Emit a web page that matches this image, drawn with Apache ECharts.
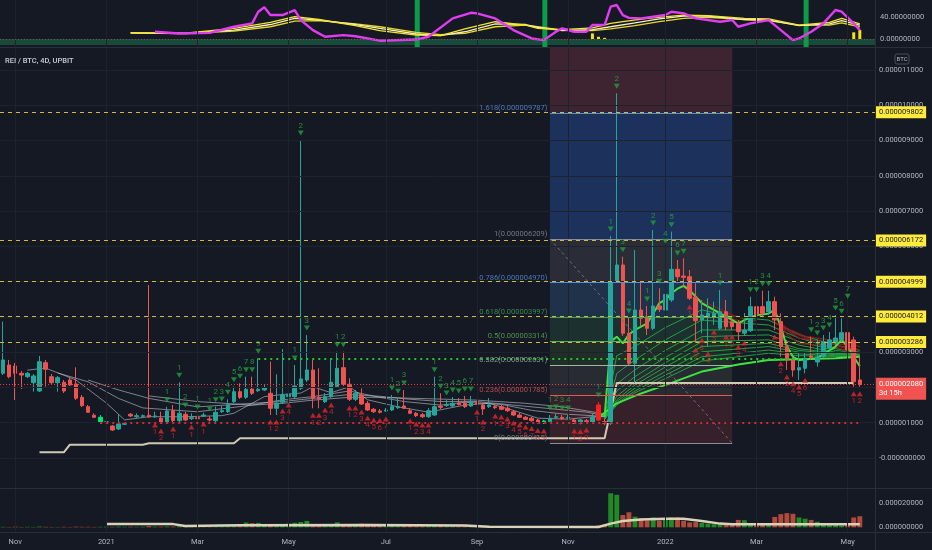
<!DOCTYPE html>
<html><head><meta charset="utf-8">
<script src="https://cdn.jsdelivr.net/npm/echarts@6/dist/echarts.min.js"></script>
<style>html,body{margin:0;padding:0;background:#151924;}#c{width:932px;height:550px;}</style>
</head><body><div id="c"></div>
<script>
// Prices are in micro-BTC (1 = 0.000001 BTC); the axis labels show the BTC value.
const SCALE = 1e-6;
const startDate = Date.UTC(2020, 9, 23);
const slotCount = 144;
const categories = Array.from({length: slotCount}, (_, i) => new Date(startDate + i * 4 * 864e5).toISOString().slice(0, 10));
const tickIndex = [2, 17, 32, 47, 63, 78, 93, 109, 124, 139];
const tickLabels = ['Nov', '2021', 'Mar', 'May', 'Jul', 'Sep', 'Nov', '2022', 'Mar', 'May'];
const priceTicks = [0,1,2,3,4,5,6,7,8,9,10,11];
const oscTicks = [0, 40];
const volTicks = [0, 20];

// [open, close, low, high]
const candles = [
[2.401,2.779,2.353,3.865],[2.637,2.305,2.260,2.779],[2.608,2.401,1.644,2.694],[2.401,2.353,1.956,2.467],[2.305,2.401,2.268,2.438],
[2.135,2.325,1.880,2.382],[1.900,2.730,1.871,2.892],[2.702,2.515,2.022,2.779],[2.305,2.135,2.098,2.382],[2.135,2.277,1.880,2.325],
[2.146,1.900,1.843,2.212],[2.212,2.070,2.041,2.268],[2.098,1.693,1.644,2.572],[1.721,1.483,1.446,1.786],[1.455,1.296,1.276,1.503],
[1.211,1.154,1.134,1.267],[1.029,1.154,0.964,1.219],[1.001,1.029,0.842,1.267],[0.907,0.794,0.766,0.936],[0.822,0.964,0.794,1.248],
[0.955,0.984,0.936,1.021],[1.239,1.191,1.162,1.276],[1.171,1.199,1.134,1.267],[1.182,1.199,1.162,1.233],[1.211,1.171,1.134,4.905],
[1.171,1.191,1.134,1.313],[1.126,1.001,0.964,1.313],[1.001,1.333,0.964,1.455],[1.341,1.058,1.021,1.503],[1.058,1.267,1.021,2.146],
[1.239,1.077,1.049,1.304],[1.114,1.143,1.077,1.267],[1.143,1.114,1.049,1.248],[1.191,1.219,1.162,1.284],[1.106,1.077,1.035,1.191],
[1.058,1.296,1.021,1.455],[1.313,1.341,1.276,1.474],[1.313,1.503,1.276,1.664],[1.596,1.880,1.559,2.022],[1.880,1.721,1.673,2.118],
[1.721,1.948,1.673,2.305],[1.956,1.834,1.786,2.305],[1.908,1.948,1.871,2.827],[1.928,1.985,1.900,2.070],[1.834,1.409,1.219,2.730],
[1.409,1.551,1.219,2.373],[1.579,1.786,1.531,3.090],[1.738,1.806,1.701,2.353],[1.738,2.041,1.701,2.637],[1.976,2.240,1.928,9.016],
[2.212,2.495,2.155,3.487],[2.495,1.693,1.409,2.779],[1.721,1.681,1.409,2.543],[1.596,1.738,1.559,1.843],[1.738,2.146,1.701,2.827],
[2.022,2.543,1.985,3.014],[2.560,2.090,2.041,3.014],[2.090,1.664,1.616,2.260],[1.664,1.834,1.616,1.928],[1.786,1.531,1.503,1.976],
[1.551,1.361,1.333,1.616],[1.381,1.313,1.276,1.418],[1.333,1.296,1.262,1.389],[1.333,1.361,1.304,1.418],[1.361,1.455,1.333,1.786],
[1.426,1.455,1.389,1.693],[1.474,1.409,1.389,1.928],[1.341,1.267,1.248,1.418],[1.267,1.199,1.162,1.304],[1.228,1.171,1.134,1.276],
[1.171,1.341,1.134,1.418],[1.219,1.455,1.191,2.305],[1.474,1.437,1.389,1.834],[1.488,1.517,1.446,1.644],[1.474,1.551,1.446,1.729],
[1.559,1.517,1.488,1.701],[1.551,1.455,1.418,1.758],[1.474,1.596,1.446,1.758],[1.568,1.531,1.503,1.616],[1.503,1.389,1.219,1.559],
[1.455,1.503,1.418,1.701],[1.455,1.426,1.389,1.503],[1.455,1.381,1.361,1.503],[1.409,1.341,1.304,1.474],[1.313,1.219,1.191,1.361],
[1.219,1.154,1.134,1.276],[1.154,1.097,1.077,1.191],[1.126,1.058,1.035,1.162],[1.077,1.001,0.978,1.106],[1.001,1.049,0.964,1.077],
[1.029,1.126,0.992,1.219],[1.154,1.171,1.120,1.248],[1.154,1.114,1.077,1.219],[1.134,1.154,1.106,1.219],[1.077,0.984,0.964,1.134],
[0.992,1.077,0.950,1.106],[1.058,1.029,0.992,1.106],[1.012,1.154,0.978,1.276],[1.503,1.077,1.049,1.588],[1.029,0.984,0.936,1.106],
[0.984,4.999,0.936,6.294],[4.999,5.472,4.962,10.340],[5.472,3.536,3.459,5.707],[3.536,2.685,2.637,3.969],[2.685,4.196,2.126,5.897],
[4.196,3.961,3.723,4.999],[4.006,3.677,3.487,4.310],[3.677,4.310,3.629,6.464],[4.310,4.216,4.140,4.811],[4.196,4.641,4.140,5.946],
[4.480,5.350,4.423,6.416],[5.350,5.140,4.953,5.614],[5.160,5.123,4.857,5.662],[5.140,4.528,4.480,5.330],[4.556,3.893,3.261,4.953],
[3.913,4.054,3.536,4.480],[4.006,4.103,3.156,4.528],[3.989,4.103,3.771,4.432],[3.677,4.148,3.629,4.763],[4.148,3.723,3.629,4.480],
[3.865,3.723,3.629,3.969],[3.819,3.581,3.346,3.913],[3.536,3.629,3.459,4.111],[3.609,4.290,3.572,4.573],[4.290,4.054,3.913,4.573],
[4.290,4.103,4.026,4.743],[4.148,4.432,4.054,4.743],[4.432,3.913,3.629,4.573],[3.865,3.156,2.872,4.103],[3.156,2.779,2.495,3.346],
[2.779,2.495,2.305,2.872],[2.495,2.560,2.212,2.969],[2.543,2.827,2.401,3.014],[2.892,2.855,2.779,3.439],[2.722,2.864,2.589,3.346],
[2.872,3.297,2.835,3.487],[3.110,3.346,3.062,3.572],[3.261,3.402,3.204,4.054],[3.346,3.553,3.289,3.961],[3.553,3.062,3.005,4.386],
[3.346,2.163,2.022,3.439],[2.212,2.080,2.022,2.900]
];

const volumes = [
0.4,0.3,0.5,0.3,0.4,0.3,0.6,0.4,0.3,0.3,0.4,0.3,0.5,0.4,0.4,0.3,0.4,
0.5,0.4,0.6,0.4,0.5,0.4,0.5,1.0,0.6,0.5,0.7,0.6,0.9,0.5,0.4,0.4,0.5,0.4,0.6,0.7,0.9,1.5,1.2,
3.9,3.4,3.6,2.5, 1.5,1.2,1.8, 3.0,3.7,4.3,5.2,
2.0,1.2,1.0,1.5,4.0,2.5,1.8,2.6,3.0,2.8,2.2,1.5,
1.2,1.4,1.0,1.3,1.1,1.0,0.9,1.0,1.8,1.2,1.0,0.9,0.8,
0.8,0.7,0.9,0.8,0.6,0.5,0.6,0.5,0.6,0.5,0.6,0.5,0.5,0.6,0.7,0.5,0.5,0.4,0.6,0.5,0.5,0.8,1.5,
2.0,27.7,26.4,10.0,12.2,8.6,7.3,5.5,8.0,5.5,6.5,8.0,8.0,5.4,4.0,4.2,3.5,3.0,2.5,3.5,3.0,2.5,6.0,5.8,
3.5,3.0,2.5,3.2,8.4,10.7,11.5,11.0,8.0,7.0,6.0,4.5,3.5,2.5,2.0,1.5,3.0,8.0,9.0
];
const volumeMA = [[17,2.6],[28,2.6],[30,1.1],[39,1.6],[60,1.9],[76,1.5],[80,0.4],[98,0.3],[100,3.0],[102,5.1],[105,6.3],[109,7.0],[112,7.0],[115,5.1],[118,3.0],[120,2.4],[141,2.4]];

// support / stop line
const supportLine = [[6,0.16],[10,0.16],[11,0.377],[23,0.377],[24,0.417],[38,0.417],[39,0.558],[99,0.558],[101,2.126],[140,2.126]];

// grey moving-average ribbon
const greyRibbon = [
 [[4,2.49],[7,2.55],[12,2.21],[17,1.56],[20,1.08],[24,1.17],[30,1.17],[36,1.2],[38,1.27],[43,1.74],[46,1.8],[49,1.84],[51,2.02],[54,1.85],[57,2.02],[60,1.65],[65,1.45],[70,1.3],[76,1.5],[80,1.55],[84,1.35],[88,1.13],[93,1.1],[97,1.17],[99,1.17]],
 [[9,2.41],[14,2.16],[19,1.69],[23,1.42],[32,1.31],[41,1.50],[46,1.65],[51,1.74],[57,1.9],[62,1.72],[66,1.6],[72,1.5],[76,1.58],[82,1.52],[87,1.35],[92,1.25],[97,1.2],[99,1.17]],
 [[14,2.21],[19,1.93],[24,1.69],[32,1.45],[41,1.55],[46,1.6],[51,1.69],[57,1.8],[62,1.75],[66,1.68],[72,1.6],[78,1.6],[84,1.5],[90,1.4],[96,1.3],[99,1.2]],
 [[24,1.76],[32,1.6],[41,1.5],[46,1.55],[51,1.64],[57,1.72],[62,1.72],[70,1.68],[78,1.64],[86,1.55],[92,1.45],[99,1.25]]
];
// green moving-average ribbon (fast to slow)
const fastLine = [[99,1.17],[100,3.3],[101,3.44],[102,3.25],[103,3.5],[104,3.63],[106,3.82],[107,4.10],[108,4.39],[109,4.48],[110,4.67],[111,4.80],[112,4.88],[113,4.76],[115,4.39],[117,4.20],[119,4.01],[121,3.82],[122,3.91],[124,4.05],[126,4.10],[127,4.20],[128,3.72],[129,3.16],[130,2.87],[131,2.78],[134,2.83],[137,3.16],[138,3.35],[139,3.16],[140,2.87],[141,2.6]];
const greenRibbon = [
 [[99,1.15],[101,2.9],[104,3.16],[109,3.7],[115,4.2],[120,4.0],[126,3.91],[131,3.5],[137,3.2],[141,3.05]],
 [[99,1.12],[101,2.4],[104,2.78],[109,3.35],[115,3.91],[126,3.77],[131,3.4],[137,3.1],[141,3.0]],
 [[99,1.1],[101,2.1],[104,2.5],[109,3.05],[115,3.63],[126,3.63],[131,3.3],[137,3.05],[141,2.98]],
 [[99,1.1],[101,1.9],[104,2.31],[109,2.85],[115,3.44],[126,3.49],[131,3.2],[137,3.0],[141,2.95]],
 [[99,1.1],[101,1.75],[104,2.16],[109,2.7],[115,3.30],[126,3.35],[131,3.1],[137,2.97],[141,2.93]],
 [[99,1.1],[101,1.65],[104,2.07],[109,2.58],[115,3.16],[126,3.25],[131,3.05],[137,2.95],[141,2.92]],
 [[99,1.1],[101,1.6],[104,1.98],[109,2.45],[115,3.01],[126,3.16],[131,3.0],[137,2.93],[141,2.9]],
 [[99,1.1],[101,1.55],[104,1.9],[109,2.35],[115,2.87],[126,3.06],[131,2.95],[137,2.9],[141,2.88]],
 [[99,1.1],[101,1.5],[104,1.85],[109,2.25],[115,2.75],[126,2.97],[131,2.9],[137,2.88],[141,2.87]]
];
const slowLine = [[98,1.15],[101,1.55],[105,1.83],[110,2.13],[115,2.45],[121,2.65],[126,2.78],[131,2.80],[137,2.83],[141,2.87]];
// falling (red) part of the ribbon
const redRibbon = [
 [[112,4.85],[114,4.55],[117,4.3],[120,4.05],[122,3.95]],
 [[113,4.6],[116,4.25],[119,4.0],[122,3.85],[124,3.9]],
 [[127,4.05],[129,3.5],[131,3.25],[134,3.2],[137,3.15],[140,2.95]],
 [[127,3.95],[130,3.55],[133,3.35],[136,3.25],[139,3.1],[141,2.95]],
 [[127,3.85],[131,3.4],[135,3.3],[139,3.2],[141,3.05]],
 [[128,3.75],[132,3.45],[136,3.35],[139,3.3],[141,3.15]]
];

// TD sequential counts: [candle index, count]
const tdSell = [[27,1],[29,1],[30,2],[32,1],[34,1],[35,2],[36,3],[37,4],[38,5],[39,6],[40,7],[41,8],[42,9],[48,1],[49,2],[50,3],[55,1],[56,2],[64,1],[65,2],[66,3],[71,1],[72,2],[73,3],[74,4],[75,5],[76,6],[77,7],[90,1],[91,2],[92,3],[93,4],[98,1],[100,1],[101,2],[102,3],[103,4],[106,1],[107,2],[108,3],[109,4],[110,5],[111,6],[112,7],[118,1],[123,1],[124,2],[125,3],[126,4],[133,1],[134,2],[135,3],[136,4],[137,5],[138,6],[139,7]];
const tdBuy = [[25,1],[26,2],[28,1],[31,1],[33,1],[44,1],[45,2],[46,3],[47,4],[51,1],[52,2],[53,3],[54,4],[57,1],[58,2],[59,3],[60,4],[61,5],[62,6],[63,7],[67,1],[68,2],[69,3],[70,4],[78,1],[79,2],[81,1],[82,2],[83,3],[84,4],[85,5],[86,6],[87,7],[88,8],[89,9],[94,1],[95,2],[96,3],[113,1],[114,2],[115,3],[116,4],[117,5],[119,1],[120,2],[121,3],[122,4],[127,1],[128,2],[129,3],[130,4],[131,5],[132,6],[140,1],[141,2]];

// horizontal levels
const yellowLevels = [9.802, 6.172, 4.999, 4.012, 3.286];
const lastPrice = 2.080;
const lastCountdown = '3d 15h';
const resistanceLevel = [42, 131, 2.827];
const supportLevel = [16, 141, 0.99];

// Fibonacci retracement (drawn between candle 90 and 120)
const fibStartIdx = 90, fibEndIdx = 120;
const fibRatios = ['1.618', '1', '0.786', '0.618', '0.5', '0.382', '0.236', '0'];
const fibPrices = [9.787, 6.209, 4.970, 3.997, 3.314, 2.631, 1.785, 0.419];

// oscillator pane
const oscMagenta = [[25,13],[29,10],[34,11],[38,22],[41,28],[42,49],[43,57],[44,43],[46,43],[48,52],[49,34],[51,16],[53,4],[56,7],[58,5],[62,-3],[68,-1],[70,4],[74,37],[77,47],[78,46],[81,37],[84,16],[87,1],[89,-2],[91,13],[92,19],[94,13],[96,13],[97,25],[99,25],[100,58],[101,61],[102,43],[103,38],[105,37],[107,40],[109,43],[110,49],[112,46],[114,37],[118,31],[120,34],[121,22],[123,28],[126,34],[128,16],[130,-2],[131,1],[133,13],[135,28],[137,52],[138,49],[140,28],[141,16]];
const oscYellowA = [[21,11.5],[30,10.5],[38,19],[44,30],[48,40],[52,35],[58,24],[62,15],[68,7],[72,6],[76,18],[81,31],[86,25],[88,19],[92,17],[97,20],[100,28],[102,31],[106,37],[112,43],[116,42],[122,37],[126,36],[131,25],[136,30],[138,37],[141,27]];
const oscWhite = [[21,11],[30,10],[38,16],[44,26],[48,37],[52,34],[58,26],[62,19],[68,9],[72,6],[76,13],[81,27],[86,26],[88,21],[92,15],[97,17],[100,22],[104,29],[108,36],[112,41],[116,41],[122,35],[126,34],[131,24],[136,27],[138,33],[141,25]];
const oscYellowB = [[21,10.5],[30,9.5],[38,14],[44,22],[48,32],[52,33],[58,27],[62,22],[68,12],[72,8],[76,10],[81,22],[86,25],[88,22],[92,16],[97,15],[100,18],[104,24],[108,31],[112,37],[116,39],[122,35],[126,33],[131,25],[136,25],[138,29],[141,22]];
const oscHist = [[97,10],[98,4],[99,2],[140,12],[141,16]];
const oscSignalIdx = [68, 89, 132];

// ---------------- chart ----------------
const UP = '#26a69a', DOWN = '#ef5350';
const FONT = 'Roboto';
const specialColor = {16: '#00e676', 89: '#00e676', 98: '#ff1f1f'};
const GRIDC = '#1e222d';

const candleData = candles.map((c, i) => specialColor[i]
  ? {value: c, itemStyle: {color: specialColor[i], color0: specialColor[i], borderColor: specialColor[i], borderColor0: specialColor[i]}}
  : c);
const volData = volumes.map((v, i) => ({value: v, itemStyle: {color: candles[i][1] >= candles[i][0] ? '#1f8a26' : '#b04a3c'}}));

const fibColors = ['#5b8fd8', '#8a8d96', '#5b8fd8', '#43a35c', '#5fae55', '#9fb5a6', '#e05555', '#8a8d96'];
const fibZoneColors = ['#3e2430', '#1c325c', '#2a2d37', '#1f3249', '#1c302f', '#1f2f28', '#282b31', '#36202a'];
const paneTop = 11.625;
const fibBounds = [paneTop].concat(fibPrices);
const fibAreas = fibZoneColors.map((col, k) => [
  {coord: [fibStartIdx, fibBounds[k]], itemStyle: {color: col}},
  {coord: [fibEndIdx, fibBounds[k + 1]]}
]);
const fibLines = fibPrices.map((p, k) => [
  {coord: [fibStartIdx, p], lineStyle: {color: fibColors[k], width: 1, type: 'solid'}},
  {coord: [fibEndIdx, p]}
]);
fibLines.push([{coord: [fibStartIdx, fibPrices[1]], lineStyle: {color: '#6d707a', width: 1, type: [3, 3]}}, {coord: [fibEndIdx, fibPrices[7]]}]);

function gridLines(xi, yi, hvals) {
  return {type: 'line', xAxisIndex: xi, yAxisIndex: yi, data: [], z: 0, silent: true,
    markLine: {silent: true, symbol: ['none', 'none'], label: {show: false}, animation: false,
      lineStyle: {color: GRIDC, width: 1, type: 'solid'},
      data: tickIndex.map(i => ({xAxis: i})).concat(hvals.map(v => ({yAxis: v})))}};
}
function lineS(xi, yi, data, color, width, z, opacity) {
  return {type: 'line', xAxisIndex: xi, yAxisIndex: yi, data: data, symbol: 'none', silent: true, z: z,
    lineStyle: {color: color, width: width, opacity: opacity == null ? 1 : opacity}};
}

const series = [];
// osc pane
series.push(gridLines(0, 0, []));
series.push({type: 'bar', xAxisIndex: 0, yAxisIndex: 0, data: oscSignalIdx.map(i => [i, 70]), barWidth: 5, barGap: '-100%', itemStyle: {color: '#0f9a4a'}, silent: true, z: 1});
series.push({type: 'bar', xAxisIndex: 0, yAxisIndex: 0, data: oscSignalIdx.map(i => [i, -14.35]), barWidth: 5, barGap: '-100%', itemStyle: {color: '#0f9a4a'}, silent: true, z: 1});
series.push({type: 'bar', xAxisIndex: 0, yAxisIndex: 0, data: oscHist, barWidth: 3, barGap: '-100%', itemStyle: {color: '#f2e21e'}, silent: true, z: 2,
  markArea: {silent: true, data: [[{yAxis: 0, itemStyle: {color: '#174a3a'}}, {yAxis: -10.8}]]},
  markLine: {silent: true, symbol: ['none', 'none'], label: {show: false}, lineStyle: {color: '#8a4a36', width: 1, type: [1, 2]}, data: [{yAxis: 0}]}});
series.push(lineS(0, 0, oscYellowB, '#e8d820', 1.3, 3));
series.push(lineS(0, 0, oscWhite, '#f1edc4', 1.3, 3));
series.push(lineS(0, 0, oscYellowA, '#f5e62a', 1.3, 3));
series.push(lineS(0, 0, oscMagenta, '#e23cf2', 2.4, 4));

// main pane
series.push(gridLines(1, 1, priceTicks));
series.push({type: 'line', xAxisIndex: 1, yAxisIndex: 1, data: [], z: 1, silent: true,
  markArea: {silent: true, data: fibAreas},
  markLine: {silent: true, symbol: ['none', 'none'], label: {show: false}, data: fibLines}});
greyRibbon.forEach(d => series.push(lineS(1, 1, d, '#c3c6ce', 1, 1.5, 0.6)));
greenRibbon.forEach(d => series.push(lineS(1, 1, d, '#22ad45', 1, 1.5, 0.9)));
series.push(lineS(1, 1, slowLine, '#3de43d', 2, 1.6));
redRibbon.forEach(d => series.push(lineS(1, 1, d, '#8e1c1c', 1.2, 1.6, 0.95)));
const fastIdx = series.length;
series.push(lineS(1, 1, fastLine, '#3de43d', 2, 1.7));
series.push(lineS(1, 1, supportLine, '#cfcab2', 2, 1.8));
series.push({type: 'candlestick', xAxisIndex: 1, yAxisIndex: 1, data: candleData, barWidth: 4, z: 2, silent: true,
  itemStyle: {color: UP, color0: DOWN, borderColor: UP, borderColor0: DOWN, borderWidth: 1}});
// levels
const levelLines = yellowLevels.map(v => ({yAxis: v,
  lineStyle: {color: '#cdbd3a', width: 1, type: [4, 4]},
  label: {show: true, position: 'end', distance: 1, formatter: (v * SCALE).toFixed(9), backgroundColor: '#ffeb3b', color: '#131722', padding: [2, 3], fontSize: 7.5, fontFamily: FONT}}));
levelLines.push({yAxis: lastPrice, lineStyle: {color: '#f23645', width: 1, type: [1, 2]},
  label: {show: true, position: 'end', distance: 1, offset: [0, 4], formatter: (lastPrice * SCALE).toFixed(9) + '\n' + lastCountdown, backgroundColor: '#f05350', color: '#ffffff', padding: [2, 3], fontSize: 7.5, lineHeight: 9, fontFamily: FONT}});
levelLines.push([{coord: [resistanceLevel[0], resistanceLevel[2]], lineStyle: {color: '#22c32b', width: 2, type: [2, 4]}, label: {show: false}}, {coord: [resistanceLevel[1], resistanceLevel[2]]}]);
levelLines.push([{coord: [supportLevel[0], supportLevel[2]], lineStyle: {color: '#d42a2a', width: 2, type: [2, 4]}, label: {show: false}}, {coord: [supportLevel[1], supportLevel[2]]}]);
series.push({type: 'line', xAxisIndex: 1, yAxisIndex: 1, data: [], z: 4, silent: true,
  markLine: {silent: true, symbol: ['none', 'none'], data: levelLines}});
// TD counts
series.push({type: 'scatter', xAxisIndex: 1, yAxisIndex: 1, z: 5, silent: true,
  data: tdSell.map(d => [d[0], candles[d[0]][3], d[1]]),
  symbol: 'triangle', symbolRotate: 180, symbolSize: [6, 5], symbolOffset: [0, -7],
  itemStyle: {color: '#1f9e3c'},
  label: {show: true, position: 'top', distance: 1, formatter: p => p.value[2], color: '#2aa44a', fontSize: 8, fontFamily: FONT}});
series.push({type: 'scatter', xAxisIndex: 1, yAxisIndex: 1, z: 5, silent: true,
  data: tdBuy.map(d => [d[0], candles[d[0]][2], d[1]]),
  symbol: 'triangle', symbolSize: [6, 5], symbolOffset: [0, 7],
  itemStyle: {color: '#e0262b'},
  label: {show: true, position: 'bottom', distance: 1, formatter: p => p.value[2], color: '#e0262b', fontSize: 8, fontFamily: FONT}});
// fib labels
series.push({type: 'scatter', xAxisIndex: 1, yAxisIndex: 1, z: 5, silent: true, symbolSize: 1,
  itemStyle: {color: 'rgba(0,0,0,0)'},
  data: fibPrices.map((p, k) => ({value: [fibStartIdx, p], label: {color: fibColors[k], formatter: fibRatios[k] + '(' + (p * SCALE).toFixed(9) + ')'}})),
  label: {show: true, position: 'left', distance: 2, offset: [0, -5], fontSize: 7.5, fontFamily: FONT}});

// volume pane
series.push(gridLines(2, 2, []));
series.push({type: 'bar', xAxisIndex: 2, yAxisIndex: 2, data: volData, barWidth: '80%', silent: true, z: 2});
series.push(lineS(2, 2, volumeMA, '#d8d3b8', 2.5, 3));

const axisLabelStyle = {color: '#b2b5be', fontSize: 7.5, fontFamily: FONT};
const xAxes = [0, 1, 2].map(g => ({
  type: 'category', gridIndex: g, data: categories, boundaryGap: true,
  axisLine: {show: false}, axisTick: {show: false}, splitLine: {show: false},
  axisLabel: g === 2 ? Object.assign({interval: (i) => tickIndex.indexOf(i) >= 0, margin: 6,
    formatter: (v, i) => { const k = tickIndex.indexOf(i); return k >= 0 ? tickLabels[k] : ''; }}, axisLabelStyle) : {show: false}
}));

const option = {
  animation: false,
  backgroundColor: '#151924',
  textStyle: {fontFamily: FONT},
  grid: [
    {left: 0, right: 57, top: 0, height: 47},
    {left: 0, right: 57, top: 48, height: 440},
    {left: 0, right: 57, top: 489, height: 43}
  ],
  xAxis: xAxes,
  yAxis: [
    {gridIndex: 0, type: 'value', position: 'right', min: -14.35, max: 70, splitLine: {show: false}, axisTick: {show: false},
     axisLine: {show: true, lineStyle: {color: '#2a2e39'}},
     axisLabel: Object.assign({customValues: oscTicks, margin: 5, formatter: v => v.toFixed(8)}, axisLabelStyle)},
    {gridIndex: 1, type: 'value', position: 'right', min: -0.851, max: paneTop, splitLine: {show: false}, axisTick: {show: false},
     axisLine: {show: true, lineStyle: {color: '#2a2e39'}},
     axisLabel: Object.assign({customValues: priceTicks, margin: 4, formatter: v => Math.abs(v) < 1e-9 ? '-0.000000000' : (v * SCALE).toFixed(9)}, axisLabelStyle)},
    {gridIndex: 2, type: 'value', position: 'right', min: -3.8, max: 31.1, splitLine: {show: false}, axisTick: {show: false},
     axisLine: {show: true, lineStyle: {color: '#2a2e39'}},
     axisLabel: Object.assign({customValues: volTicks, margin: 4, formatter: v => (v * SCALE).toFixed(9)}, axisLabelStyle)}
  ],
  visualMap: [{show: false, type: 'piecewise', seriesIndex: fastIdx, dimension: 0,
    pieces: [{lt: 112, color: '#3de43d'}, {gte: 112, lt: 121.5, color: '#9a1e1e'}, {gte: 121.5, lt: 127, color: '#3de43d'},
             {gte: 127, lt: 131.5, color: '#9a1e1e'}, {gte: 131.5, lt: 138, color: '#3de43d'}, {gte: 138, color: '#9a1e1e'}]}],
  graphic: [
    {type: 'line', shape: {x1: 0, y1: 47.5, x2: 932, y2: 47.5}, style: {stroke: '#2a2e39', lineWidth: 1}, silent: true, z: 100},
    {type: 'line', shape: {x1: 0, y1: 488.5, x2: 932, y2: 488.5}, style: {stroke: '#2a2e39', lineWidth: 1}, silent: true, z: 100},
    {type: 'line', shape: {x1: 0, y1: 532.5, x2: 932, y2: 532.5}, style: {stroke: '#2a2e39', lineWidth: 1}, silent: true, z: 100},
    {type: 'line', shape: {x1: 875.5, y1: 0, x2: 875.5, y2: 550}, style: {stroke: '#2a2e39', lineWidth: 1}, silent: true, z: 100},
    {type: 'text', left: 5, top: 57, silent: true, z: 100, style: {text: 'REI / BTC, 4D, UPBIT', fill: '#c8cbd3', font: '500 7.5px Roboto'}},
    {type: 'rect', shape: {x: 895, y: 54, width: 14, height: 10, r: 2}, style: {fill: 'none', stroke: '#4a4e59', lineWidth: 1}, silent: true, z: 100},
    {type: 'text', x: 902, y: 59, silent: true, z: 101, style: {text: 'BTC', fill: '#b2b5be', font: '6px Roboto', align: 'center', verticalAlign: 'middle'}}
  ],
  series: series
};
const chart = echarts.init(document.getElementById('c'), null, {renderer: 'canvas'});
chart.setOption(option);
</script>
</body></html>
